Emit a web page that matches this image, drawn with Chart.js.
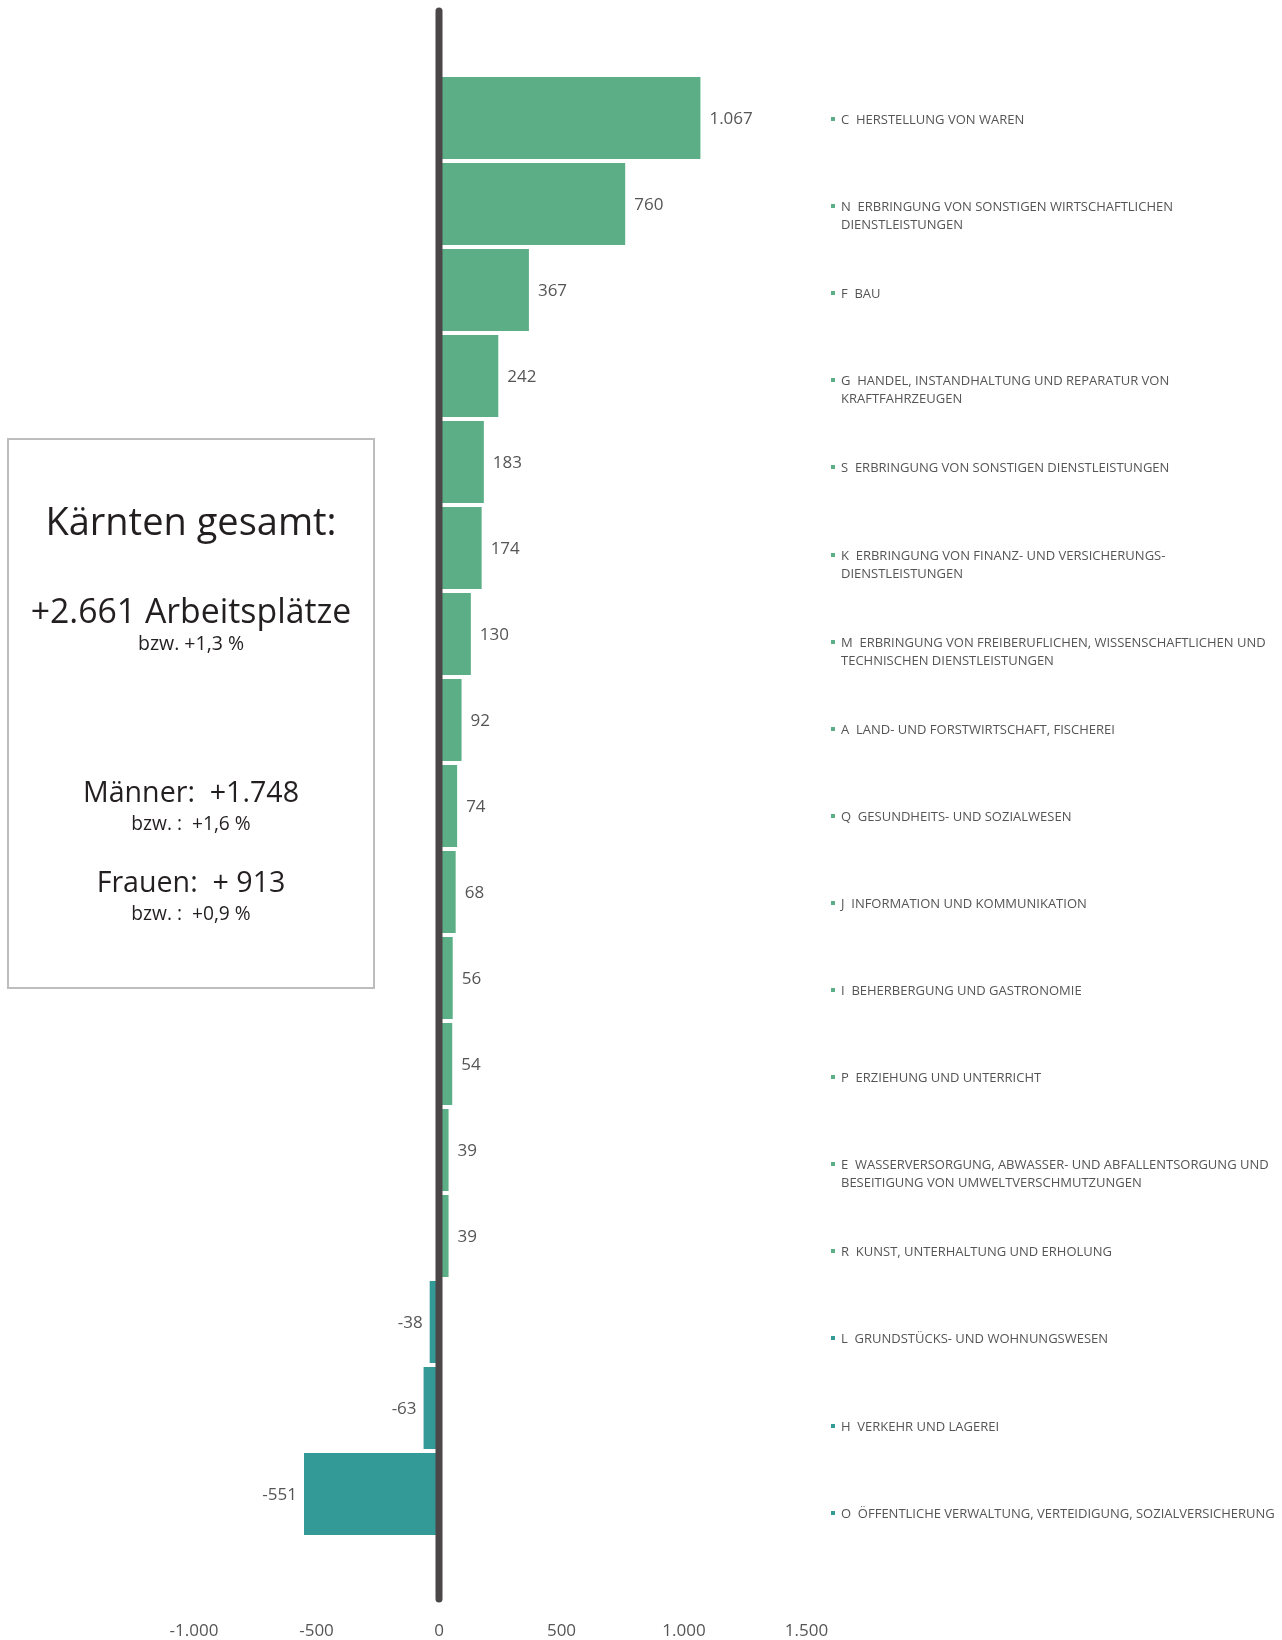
<!DOCTYPE html>
<html>
<head>
<meta charset="utf-8">
<script src="https://cdn.jsdelivr.net/npm/chart.js@4/dist/chart.umd.min.js"></script>
<style>
  html, body { margin: 0; padding: 0; background: #fff; }
  #wrap { position: relative; width: 1282px; height: 1640px; font-family: "Open Sans", sans-serif; }
  #chart { position: absolute; left: 0; top: 0; }
  #box { position: absolute; left: 7px; top: 438px; width: 364px; height: 547px; border: 2px solid #bdbdbd; }
  .bt { position: absolute; left: 0; width: 100%; text-align: center; color: #231f20; white-space: nowrap; line-height: 1; }
  #legend { position: absolute; left: 831px; top: 0; }
  .li { position: absolute; left: 0; white-space: nowrap; font-size: 13px; line-height: 18px; color: #555; }
  .li .mk { position: absolute; left: 0; top: 7px; width: 4px; height: 4px; }
  .li .tx { position: absolute; left: 10px; top: 0; }
</style>
</head>
<body>
<div id="wrap">
  <canvas id="chart" width="1282" height="1640"></canvas>
  <div id="box">
    <div class="bt" style="top:61px;font-size:38px;">Kärnten gesamt:</div>
    <div class="bt" style="top:154px;font-size:33.8px;">+2.661 Arbeitsplätze</div>
    <div class="bt" style="top:193px;font-size:19.5px;">bzw. +1,3 %</div>
    <div class="bt" style="top:337px;font-size:28.6px;">Männer:&nbsp; +1.748</div>
    <div class="bt" style="top:373px;font-size:19.2px;">bzw. :&nbsp; +1,6 %</div>
    <div class="bt" style="top:427px;font-size:28.6px;">Frauen:&nbsp; + 913</div>
    <div class="bt" style="top:463px;font-size:19.2px;">bzw. :&nbsp; +0,9 %</div>
  </div>
  <div id="legend"></div>
</div>
<script>
// Wirtschaftsabschnitte, sortiert nach Veränderung
const codes = ['C', 'N', 'F', 'G', 'S', 'K', 'M', 'A', 'Q', 'J', 'I', 'P', 'E', 'R', 'L', 'H', 'O'];
const sectors = [
    ['HERSTELLUNG VON WAREN'],
    ['ERBRINGUNG VON SONSTIGEN WIRTSCHAFTLICHEN', 'DIENSTLEISTUNGEN'],
    ['BAU'],
    ['HANDEL, INSTANDHALTUNG UND REPARATUR VON', 'KRAFTFAHRZEUGEN'],
    ['ERBRINGUNG VON SONSTIGEN DIENSTLEISTUNGEN'],
    ['ERBRINGUNG VON FINANZ- UND VERSICHERUNGS-', 'DIENSTLEISTUNGEN'],
    ['ERBRINGUNG VON FREIBERUFLICHEN, WISSENSCHAFTLICHEN UND', 'TECHNISCHEN DIENSTLEISTUNGEN'],
    ['LAND- UND FORSTWIRTSCHAFT, FISCHEREI'],
    ['GESUNDHEITS- UND SOZIALWESEN'],
    ['INFORMATION UND KOMMUNIKATION'],
    ['BEHERBERGUNG UND GASTRONOMIE'],
    ['ERZIEHUNG UND UNTERRICHT'],
    ['WASSERVERSORGUNG, ABWASSER- UND ABFALLENTSORGUNG UND', 'BESEITIGUNG VON UMWELTVERSCHMUTZUNGEN'],
    ['KUNST, UNTERHALTUNG UND ERHOLUNG'],
    ['GRUNDSTÜCKS- UND WOHNUNGSWESEN'],
    ['VERKEHR UND LAGEREI'],
    ['ÖFFENTLICHE VERWALTUNG, VERTEIDIGUNG, SOZIALVERSICHERUNG']
];
const changes = [1067, 760, 367, 242, 183, 174, 130, 92, 74, 68, 56, 54, 39, 39, -38, -63, -551];
const xTicks = [-1000, -500, 0, 500, 1000, 1500];

const posColor = '#5bae85';
const negColor = '#349a98';
const textColor = '#555555';
const fmt = v => v.toLocaleString('de-DE');
const barColors = changes.map(v => v >= 0 ? posColor : negColor);

//Legend on the right
const legend = document.getElementById('legend');
sectors.forEach((lines, i) => {
    const item = document.createElement('div');
    item.className = 'li';
    item.style.top = (110 + i * 87.1) + 'px';
    item.innerHTML = '<span class="mk" style="background:' + barColors[i] + '"></span>' +
        '<span class="tx">' + codes[i] + '&nbsp; ' + lines.join('<br>') + '</span>';
    legend.appendChild(item);
});

// zero line drawn on top of the bars
const zeroLine = {
    id: 'zeroLine',
    afterDatasetsDraw(chart) {
        const ctx = chart.ctx;
        const x = chart.scales.x.getPixelForValue(0);
        ctx.save();
        ctx.strokeStyle = '#4b4748';
        ctx.lineWidth = 7;
        ctx.lineCap = 'round';
        ctx.beginPath();
        ctx.moveTo(x, 11);
        ctx.lineTo(x, 1599);
        ctx.stroke();
        ctx.restore();
    }
};

// value labels next to the bar ends
const valueLabels = {
    id: 'valueLabels',
    afterDatasetsDraw(chart) {
        const ctx = chart.ctx;
        const meta = chart.getDatasetMeta(0);
        ctx.save();
        ctx.font = '17px "Open Sans"';
        ctx.fillStyle = textColor;
        ctx.textBaseline = 'middle';
        meta.data.forEach((bar, i) => {
            const v = changes[i];
            if (v >= 0) {
                ctx.textAlign = 'left';
                ctx.fillText(fmt(v), bar.x + 9, bar.y + 1);
            } else {
                ctx.textAlign = 'right';
                ctx.fillText(fmt(v), bar.x - 7, bar.y + 1);
            }
        });
        ctx.restore();
    }
};

new Chart(document.getElementById('chart'), {
    type: 'bar',
    data: {
        labels: codes,
        datasets: [{
            data: changes,
            backgroundColor: barColors,
            borderWidth: 0,
            categoryPercentage: 1,
            barPercentage: 0.953
        }]
    },
    options: {
        indexAxis: 'y',
        responsive: false,
        animation: false,
        layout: { padding: { left: 194, right: 475.5, top: 75, bottom: 0 } },
        plugins: {
            legend: { display: false },
            tooltip: { enabled: false }
        },
        scales: {
            x: {
                min: xTicks[0],
                max: xTicks[xTicks.length - 1],
                afterBuildTicks: axis => { axis.ticks = xTicks.map(v => ({ value: v })); },
                afterFit: axis => { axis.height = 103; },
                grid: { display: false, drawTicks: false },
                border: { display: false },
                ticks: {
                    padding: 84,
                    color: textColor,
                    font: { family: 'Open Sans', size: 17 },
                    callback: v => fmt(v)
                }
            },
            y: { display: false }
        }
    },
    plugins: [zeroLine, valueLabels]
});
</script>
</body>
</html>
